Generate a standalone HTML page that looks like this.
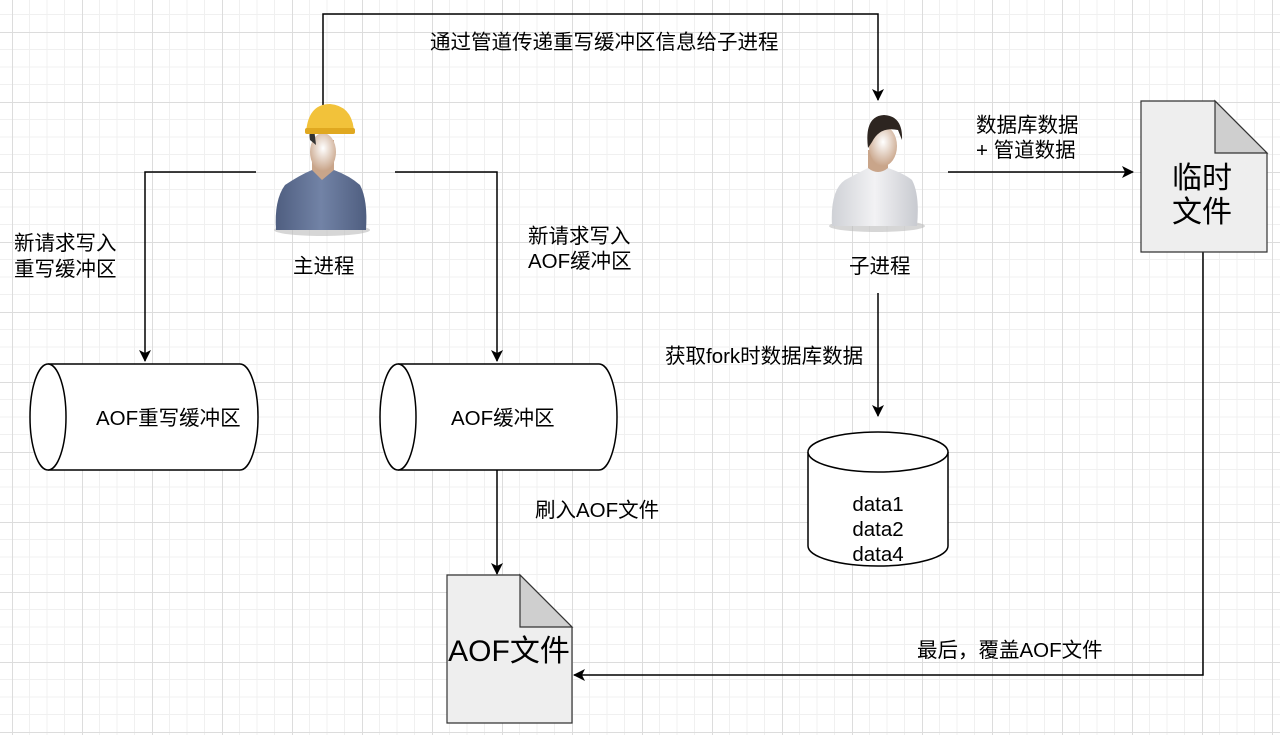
<!DOCTYPE html>
<html><head><meta charset="utf-8"><style>
html,body{margin:0;padding:0;background:#fff;}
svg{display:block;font-family:"Liberation Sans","Noto Sans CJK SC",sans-serif;}
</style></head><body>
<svg width="1280" height="735" viewBox="0 0 1280 735" xmlns="http://www.w3.org/2000/svg">
<defs>
<pattern id="g" x="12" y="32" width="70" height="70" patternUnits="userSpaceOnUse">
<path d="M17.5 0V70M35 0V70M52.5 0V70M0 17.5H70M0 35H70M0 52.5H70" stroke="#f0f0f0" stroke-width="1"/>
<path d="M0.5 0V70M0 0.5H70" stroke="#dcdcdc" stroke-width="1"/>
</pattern>
<marker id="a" markerWidth="12" markerHeight="12" refX="11" refY="6" orient="auto" markerUnits="userSpaceOnUse">
<path d="M0 0L12 6L0 12L3 6Z" fill="#000"/></marker>
<radialGradient id="face" cx="0.5" cy="0.4" r="0.6"><stop offset="0" stop-color="#fff"/><stop offset="1" stop-color="#c9a58a"/></radialGradient>
<linearGradient id="shirt" x1="0" x2="1"><stop offset="0" stop-color="#4f5e80"/><stop offset="0.5" stop-color="#7283a6"/><stop offset="1" stop-color="#4f5e80"/></linearGradient>
<linearGradient id="tee" x1="0" x2="1"><stop offset="0" stop-color="#cfd1d6"/><stop offset="0.5" stop-color="#f2f2f4"/><stop offset="1" stop-color="#c8cad0"/></linearGradient>
</defs>
<rect width="1280" height="735" fill="url(#g)"/>
<g fill="none" stroke="#000" stroke-width="1.5">
<path d="M323 105V14H878V100" marker-end="url(#a)"/>
<path d="M256 172H145V361" marker-end="url(#a)"/>
<path d="M395 172H497V361" marker-end="url(#a)"/>
<path d="M878 293V416" marker-end="url(#a)"/>
<path d="M948 172H1133" marker-end="url(#a)"/>
<path d="M497 470V574" marker-end="url(#a)"/>
<path d="M1203 252V675H574" marker-end="url(#a)"/>
</g>
<!-- worker -->
<ellipse cx="322" cy="230" rx="48" ry="6" fill="#bbb" opacity="0.6"/>
<path d="M276 230 Q274 200 285 185 Q300 175 312 170 L334 170 Q350 176 360 185 Q368 200 366 230Z" fill="url(#shirt)"/>
<path d="M312 140 L312 170 L322 180 L334 170 L334 140Z" fill="#c9a58a"/>
<ellipse cx="323" cy="152" rx="13" ry="19" fill="url(#face)"/>
<path d="M310 140 Q308 130 314 128 L316 145Z" fill="#333"/>
<path d="M306 133 Q308 104 330 104 Q352 106 354 131Z" fill="#f2c23a"/>
<rect x="305" y="128" width="50" height="6" rx="2" fill="#e0a820"/>
<!-- child -->
<ellipse cx="877" cy="226" rx="48" ry="6" fill="#bbb" opacity="0.6"/>
<path d="M832 226 Q830 190 845 180 Q860 172 868 168 L888 168 Q905 174 912 180 Q920 195 917 226Z" fill="url(#tee)"/>
<path d="M868 150 L868 168 Q878 176 888 168 L888 150Z" fill="#c9a58a"/>
<ellipse cx="883" cy="146" rx="14" ry="20" fill="url(#face)"/>
<path d="M868 148 Q864 116 884 115 Q903 116 902 140 L898 130 Q880 126 872 142Z" fill="#2d2520"/>
<!-- cylinders -->
<g stroke="#000" stroke-width="1.5" fill="#fff">
<path d="M48 364H240A18 53 0 0 1 240 470H48A18 53 0 0 1 48 364Z"/>
<path d="M48 364A18 53 0 0 1 48 470"/>
<path d="M398 364H599A18 53 0 0 1 599 470H398A18 53 0 0 1 398 364Z"/>
<path d="M398 364A18 53 0 0 1 398 470"/>
<path d="M808 452V546A70 20 0 0 0 948 546V452A70 20 0 0 0 808 452Z"/>
<path d="M808 452A70 20 0 0 0 948 452"/>
</g>
<!-- docs -->
<g stroke="#333" stroke-width="1.2">
<path d="M1141 101H1215L1267 153V252H1141Z" fill="#eeeeee"/>
<path d="M1215 101V153H1267Z" fill="#cfcfcf"/>
<path d="M447 575H520L572 627V723H447Z" fill="#eeeeee"/>
<path d="M520 575V627H572Z" fill="#cfcfcf"/>
</g>
<g font-size="20.5" fill="#000">
<text x="430" y="49">通过管道传递重写缓冲区信息给子进程</text>
<text x="14" y="250">新请求写入</text>
<text x="14" y="276">重写缓冲区</text>
<text x="528" y="243">新请求写入</text>
<text x="528" y="268">AOF缓冲区</text>
<text x="293" y="273">主进程</text>
<text x="849" y="273">子进程</text>
<text x="976" y="132">数据库数据</text>
<text x="976" y="157">+ 管道数据</text>
<text x="665" y="363">获取fork时数据库数据</text>
<text x="535" y="517">刷入AOF文件</text>
<text x="917" y="657">最后，覆盖AOF文件</text>
<text x="96" y="425">AOF重写缓冲区</text>
<text x="451" y="425">AOF缓冲区</text>
<text x="878" y="511" text-anchor="middle">data1</text>
<text x="878" y="536" text-anchor="middle">data2</text>
<text x="878" y="561" text-anchor="middle">data4</text>
</g>
<g font-size="30" fill="#000" text-anchor="middle">
<text x="1202" y="188">临时</text>
<text x="1202" y="222">文件</text>
<text x="509" y="661">AOF文件</text>
</g>
</svg>
</body></html>
